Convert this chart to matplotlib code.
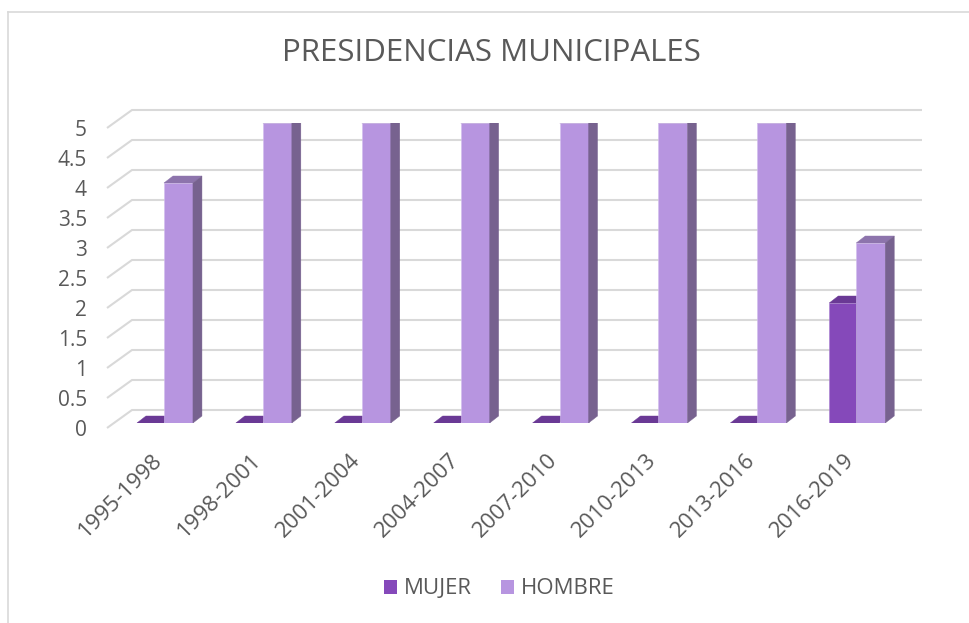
import matplotlib
matplotlib.use("Agg")
import matplotlib.pyplot as plt
from matplotlib.patches import Polygon, Patch
from matplotlib.lines import Line2D

# ---------------- data ----------------
categories = ["1995-1998", "1998-2001", "2001-2004", "2004-2007",
              "2007-2010", "2010-2013", "2013-2016", "2016-2019"]
mujer = [0, 0, 0, 0, 0, 0, 0, 2]
hombre = [4, 5, 5, 5, 5, 5, 5, 3]
series_names = ["MUJER", "HOMBRE"]
y_ticks = [0, 0.5, 1, 1.5, 2, 2.5, 3, 3.5, 4, 4.5, 5]
y_tick_labels = ["0", "0.5", "1", "1.5", "2", "2.5", "3", "3.5", "4", "4.5", "5"]
title = "PRESIDENCIAS MUNICIPALES"

# ---------------- style ----------------
FONT = ["Open Sans", "DejaVu Sans"]
TXT = "#595959"
GRID = "#D9D9D9"
M_FRONT, M_TOP, M_SIDE = "#8549BA", "#6A3995", "#5E3384"
H_FRONT, H_TOP, H_SIDE = "#B795E0", "#8D74AC", "#77628F"

plt.rcParams["font.family"] = FONT

W, H = 969, 623
fig = plt.figure(figsize=(W / 100, H / 100), dpi=100)
fig.patch.set_facecolor("white")

# front plane of the 3D box, in pixels
L_px, R_px, B_px, T_px = 114.5, 905.7, 423.0, 123.0
ax = fig.add_axes([L_px / W, 1 - B_px / H, (R_px - L_px) / W, (B_px - T_px) / H])
n = len(categories)
ax.set_xlim(-0.5, n - 0.5)
ax.set_ylim(0, 5)
ax.axis("off")

pxc = (R_px - L_px) / n       # pixels per category unit
pxv = (B_px - T_px) / 5.0     # pixels per value unit


def cat(px):
    return (px - L_px) / pxc - 0.5


# gridlines: back wall + diagonal floor edge
xb0, xb1, xf = cat(132), cat(922), cat(107)
for v, lab in zip(y_ticks, y_tick_labels):
    yb = v + 13 / pxv
    yf = v - 5 / pxv
    ax.plot([xf, xb0, xb1], [yf, yb, yb], color=GRID, lw=1.5,
            clip_on=False, solid_capstyle="butt", zorder=1)
    ax.text(cat(87), v - 8 / pxv, lab, ha="right", va="center",
            fontsize=15, color=TXT, clip_on=False)

# bars
wm = 27 / pxc
wh = 29 / pxc
ddx = 9 / pxc
ddy = 7 / pxv
xs = list(range(n))


def faces(x0, x1, h, top, side, z):
    ax.add_patch(Polygon([(x0, h), (x1, h), (x1 + ddx, h + ddy), (x0 + ddx, h + ddy)],
                         closed=True, facecolor=top, edgecolor=top, lw=0.3, zorder=z))
    if h > 0:
        ax.add_patch(Polygon([(x1, 0), (x1 + ddx, ddy), (x1 + ddx, h + ddy), (x1, h)],
                             closed=True, facecolor=side, edgecolor=side, lw=0.3, zorder=z))


ax.bar([x - wm for x in xs], mujer, width=wm, align="edge", color=M_FRONT,
       edgecolor="#A77FD0", lw=0.4, zorder=2)
for x, h in zip(xs, mujer):
    faces(x - wm, x, h, M_TOP, M_SIDE, 2.1)
ax.bar(xs, hombre, width=wh, align="edge", color=H_FRONT,
       edgecolor="#D2BDEE", lw=0.4, zorder=3)
for x, h in zip(xs, hombre):
    faces(x, x + wh, h, H_TOP, H_SIDE, 3.1)

# category labels
for x, lab in zip(xs, categories):
    ax.text(x - 5 / pxc, -34 / pxv, lab, rotation=45, rotation_mode="anchor",
            ha="right", va="center", fontsize=16, color=TXT, clip_on=False)

# title
fig.text(491 / W, 1 - 53 / H, title, ha="center", va="center",
         fontsize=22.5, color=TXT)

# legend
handles = [Patch(facecolor=M_FRONT, edgecolor="none"),
           Patch(facecolor=H_FRONT, edgecolor="none")]
fig.legend(handles, series_names, loc="center", bbox_to_anchor=(499 / W, 1 - 589 / H),
           ncol=2, frameon=False, fontsize=16, handlelength=0.6, handleheight=0.6,
           handletextpad=0.3, columnspacing=1.3, labelcolor=TXT)

# chart border (top and left visible)
fig.add_artist(Line2D([8 / W, 1], [1 - 12 / H, 1 - 12 / H], transform=fig.transFigure,
                      color=GRID, lw=1.2))
fig.add_artist(Line2D([8 / W, 8 / W], [1 - 12 / H, 0], transform=fig.transFigure,
                      color=GRID, lw=1.2))

fig.savefig("out.png", dpi=100)
